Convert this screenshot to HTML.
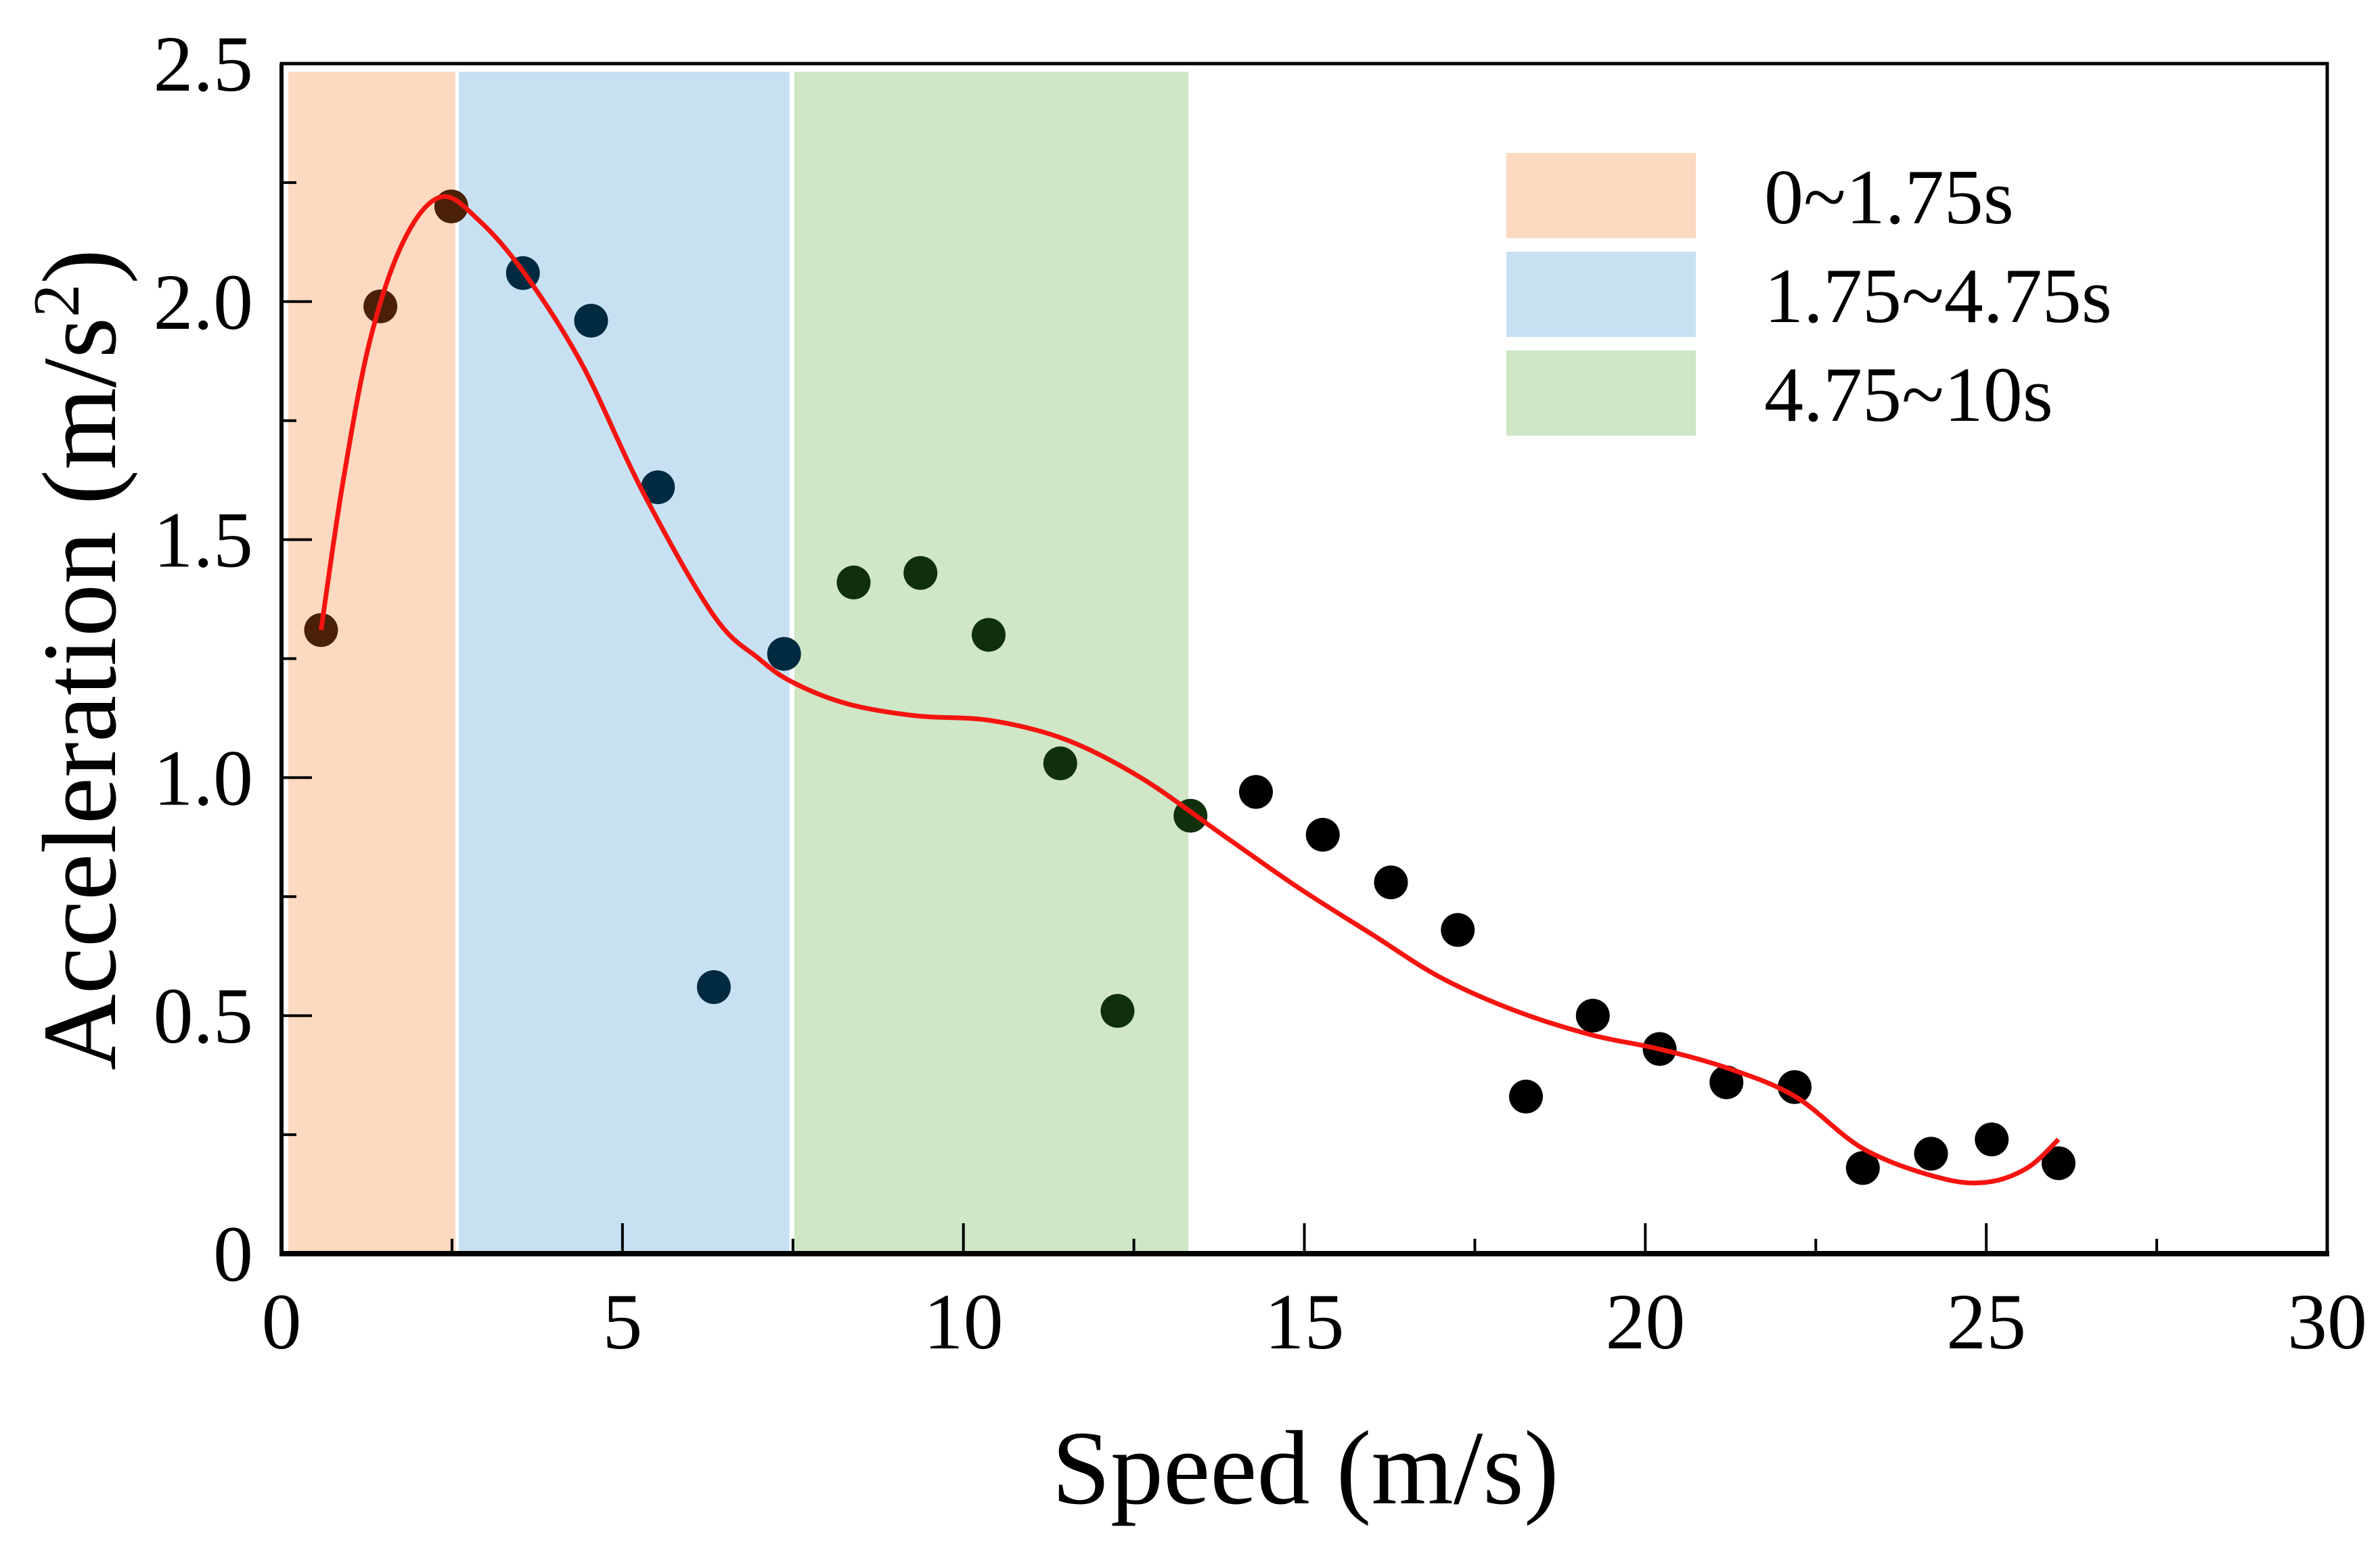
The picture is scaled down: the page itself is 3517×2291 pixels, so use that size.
<!DOCTYPE html>
<html><head><meta charset="utf-8"><style>
html,body{margin:0;padding:0;background:#fff;}
svg{display:block;font-family:"Liberation Serif",serif;}
</style></head><body>
<svg id="chart" width="3517" height="2291" viewBox="0 0 3517 2291" xmlns="http://www.w3.org/2000/svg"></svg>
<script>
const speeds = [0.58,1.45,2.49,3.54,4.54,5.52,6.34,7.37,8.39,9.37,10.37,11.42,12.26,13.33,14.29,15.27,16.27,17.25,18.25,19.23,20.21,21.19,22.19,23.19,24.19,25.08,26.06];
const accels = [1.31,1.99,2.20,2.06,1.96,1.61,0.56,1.26,1.41,1.43,1.30,1.03,0.51,0.92,0.97,0.88,0.78,0.68,0.33,0.50,0.43,0.36,0.35,0.18,0.21,0.24,0.19];
const fitX = [0.58,0.9,1.3,1.8,2.34,2.9,3.56,4.4,5.3,6.34,7.0,7.5,8.3,9.3,10.4,11.5,12.6,13.8,14.9,16.0,17.0,18.1,19.2,20.2,21.2,22.2,23.2,24.3,25.0,25.6,26.06];
const fitY = [1.31,1.62,1.92,2.13,2.22,2.17,2.06,1.87,1.60,1.34,1.25,1.20,1.155,1.13,1.12,1.08,1.00,0.88,0.77,0.67,0.58,0.51,0.46,0.43,0.39,0.33,0.22,0.16,0.15,0.18,0.24];
const bandStart = [0.1,2.6,7.52];
const bandEnd = [2.55,7.45,13.3];
const bandLabels = ["0~1.75s","1.75~4.75s","4.75~10s"];
const xTicks = [0,5,10,15,20,25,30];
const yTicks = [0,0.5,1.0,1.5,2.0,2.5];
const yTickLabels = ["0","0.5","1.0","1.5","2.0","2.5"];

const X0=416,X1=3439,Y0=1853,Y1=94;
const xs=v=>X0+(v-0)/30*(X1-X0);
const ys=v=>Y0-(v-0)/2.5*(Y0-Y1);
const bandColors=["#fdd9c1","#c7e1f3","#cfe6c7"];
const dotColors=["#4a2008","#002a40","#10300c"];
const svg=document.getElementById('chart');
const NS="http://www.w3.org/2000/svg";
function mk(tag,attrs,parent){const e=document.createElementNS(NS,tag);for(const k in attrs)e.setAttribute(k,attrs[k]);(parent||svg).appendChild(e);return e;}

for(let i=0;i<bandStart.length;i++){
  const r=mk('rect',{x:xs(bandStart[i]),y:Y1+12,width:xs(bandEnd[i])-xs(bandStart[i]),height:Y0-Y1-12,fill:bandColors[i]});
  
  
}
let pts=fitX.map((v,i)=>[xs(v),ys(fitY[i])]);
let d='M'+pts[0][0]+','+pts[0][1];
for(let i=0;i<pts.length-1;i++){
  const p0=pts[Math.max(0,i-1)],p1=pts[i],p2=pts[i+1],p3=pts[Math.min(pts.length-1,i+2)];
  const c1=[p1[0]+(p2[0]-p0[0])/6,p1[1]+(p2[1]-p0[1])/6];
  const c2=[p2[0]-(p3[0]-p1[0])/6,p2[1]-(p3[1]-p1[1])/6];
  d+=` C${c1[0]},${c1[1]} ${c2[0]},${c2[1]} ${p2[0]},${p2[1]}`;
}
for(let i=0;i<speeds.length;i++){
  let col="#000";
  for(let b=0;b<bandStart.length;b++) if(speeds[i]>=bandStart[b]&&speeds[i]<=bandEnd[b]+0.05) col=dotColors[b];
  const c=mk('circle',{cx:xs(speeds[i]),cy:ys(accels[i]),r:25,fill:col});
  
  
}
const fit=mk('path',{d:d,fill:'none',stroke:'#f5140f','stroke-width':7,'stroke-linejoin':'round'});



const frame=mk('rect',{x:X0,y:Y1,width:X1-X0,height:Y0-Y1,fill:'none',stroke:'#000','stroke-width':5});


const xb=mk('line',{x1:X0-3,y1:Y0,x2:X1+3,y2:Y0,stroke:'#000','stroke-width':8});


const yb=mk('line',{x1:X0,y1:Y1,x2:X0,y2:Y0,stroke:'#000','stroke-width':6});



for(let v=2.5;v<30;v+=2.5){
  const major=Math.abs(v%5)<1e-9;
  mk('line',{x1:xs(v),y1:Y0,x2:xs(v),y2:Y0-(major?45:22),stroke:'#000','stroke-width':4});
}
xTicks.forEach(v=>{
  const t=mk('text',{x:xs(v),y:1993,'font-size':118,'text-anchor':'middle'});
  t.textContent=v;
  
  
});
for(let v=0.25;v<2.5;v+=0.25){
  const major=Math.abs((v*2)%1)<1e-9;
  mk('line',{x1:X0,y1:ys(v),x2:X0+(major?45:22),y2:ys(v),stroke:'#000','stroke-width':4});
}
yTicks.forEach((v,i)=>{
  const t=mk('text',{x:374,y:ys(v)+40,'font-size':118,'text-anchor':'end'});
  t.textContent=yTickLabels[i];
  
  
});
const xt=mk('text',{x:1929,y:2222,'font-size':156,'text-anchor':'middle'});
xt.textContent='Speed (m/s)';


const yt=mk('text',{x:0,y:0,'font-size':156,'text-anchor':'middle',transform:'translate(170,975) rotate(-90)'});
yt.innerHTML='Acceleration (m/s<tspan baseline-shift="super" font-size="98">2</tspan>)';



const ly=[226,372,518];
for(let i=0;i<3;i++){
  const g=mk('g',{});
  
  
  mk('rect',{x:2226,y:ly[i],width:280,height:126,fill:bandColors[i]},g);
  const t=mk('text',{x:2607,y:ly[i]+104,'font-size':116},g);
  t.textContent=bandLabels[i];
}
</script>
</body></html>
